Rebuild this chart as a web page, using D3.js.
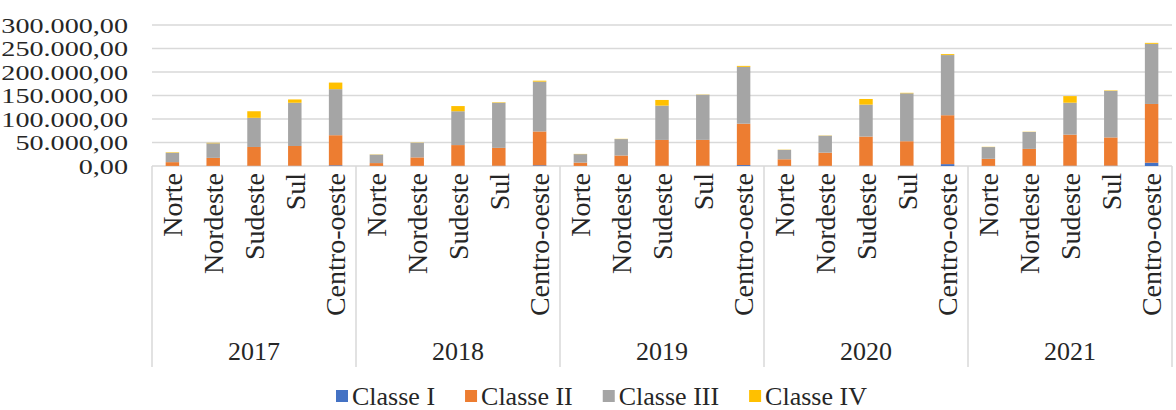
<!DOCTYPE html>
<html>
<head>
<meta charset="utf-8">
<script src="https://cdn.jsdelivr.net/npm/d3@7"></script>
<style>
  body { margin: 0; background: #fff; }
  text { font-family: "Liberation Serif", "Times New Roman", serif; fill: #262626; }
</style>
</head>
<body>
<svg id="chart" width="1176" height="410"></svg>
<script>
// categories
const years = ['2017', '2018', '2019', '2020', '2021'];
const regions = ['Norte', 'Nordeste', 'Sudeste', 'Sul', 'Centro-oeste'];
const classes = ['Classe I', 'Classe II', 'Classe III', 'Classe IV'];
const yTicks = [0, 50000, 100000, 150000, 200000, 250000, 300000];

// series values, year by year, in the order of regions
const classeI = [200, 300, 500, 600, 1500, 200, 300, 500, 600, 1500,
                 200, 300, 500, 600, 2000, 300, 400, 600, 700, 4000,
                 300, 400, 700, 800, 7000];
const classeII = [8000, 17000, 40000, 42000, 64000, 6000, 18000, 44000, 38000, 72000,
                  7000, 22000, 55000, 55000, 88000, 14000, 28000, 62000, 52000, 104000,
                  15000, 36000, 66000, 60000, 125000];
const classeIII = [20000, 31000, 62000, 92000, 98000, 18000, 31000, 72000, 96000, 106000,
                   18000, 35000, 73000, 96000, 121000, 20000, 36000, 68000, 102000, 128000,
                   25000, 36000, 68000, 99000, 128000];
const classeIV = [1000, 1000, 14000, 7000, 14000, 500, 500, 11000, 1000, 2000,
                  500, 500, 12000, 500, 2000, 500, 500, 12000, 1000, 2000,
                  500, 500, 14000, 1000, 2000];

const colors = ['#4472C4', '#ED7D31', '#A5A5A5', '#FFC000'];

// table for the stack
let data = [];
years.forEach((y, i) => {
    regions.forEach((r, j) => {
        let k = i * regions.length + j;
        data.push({
            key: y + '|' + r, year: y, region: r,
            'Classe I': classeI[k], 'Classe II': classeII[k],
            'Classe III': classeIII[k], 'Classe IV': classeIV[k]
        });
    });
});

let plotLeft = 152, plotRight = 1172, plotTop = 25, plotBase = 166;
let svg = d3.select('#chart');

let xScale = d3.scaleBand()
    .domain(data.map(d => d.key))
    .range([plotLeft, plotRight])
    .paddingInner(0.67)
    .paddingOuter(0.335);

let yearScale = d3.scaleBand()
    .domain(years)
    .range([plotLeft, plotRight]);

let yScale = d3.scaleLinear()
    .domain([0, 300000])
    .range([plotBase, plotTop]);

let br = d3.formatLocale({decimal: ',', thousands: '.', grouping: [3], currency: ['R$', '']});
let fmt = br.format(',.2f');

// gridlines
svg.append('g')
    .selectAll('line')
    .data(yTicks)
    .join('line')
        .attr('x1', plotLeft)
        .attr('x2', plotRight)
        .attr('y1', d => yScale(d))
        .attr('y2', d => yScale(d))
        .attr('stroke', '#D9D9D9')
        .attr('stroke-width', 1.5);

// y axis labels (wide, tightly packed like the original)
let yAxis = svg.append('g')
    .attr('transform', 'translate(128,0) scale(1.28,1)')
    .call(d3.axisLeft(yScale).tickValues(yTicks).tickFormat(fmt).tickSize(0));
yAxis.select('.domain').remove();
yAxis.selectAll('text')
    .attr('x', 0)
    .attr('dy', '0.33em')
    .style('font-size', '22px')
    .style('font-family', '"Liberation Serif", serif')
    .attr('fill', '#262626');

// stacked bars
let stack = d3.stack().keys(classes);
let series = stack(data);

svg.append('g')
    .selectAll('g')
    .data(series)
    .join('g')
        .attr('fill', (d, i) => colors[i])
    .selectAll('rect')
    .data(d => d)
    .join('rect')
        .attr('x', d => xScale(d.data.key))
        .attr('width', xScale.bandwidth())
        .attr('y', d => yScale(d[1]))
        .attr('height', d => yScale(d[0]) - yScale(d[1]));

// region labels (inner level of category axis)
let xAxis = svg.append('g')
    .attr('transform', 'translate(0,' + plotBase + ')')
    .call(d3.axisBottom(xScale).tickFormat(k => k.split('|')[1]).tickSize(0));
xAxis.select('.domain').remove();
xAxis.selectAll('text')
    .attr('transform', 'rotate(-90)')
    .attr('text-anchor', 'end')
    .attr('x', -7)
    .attr('y', 0)
    .attr('dy', '0.35em')
    .style('font-size', '28px')
    .style('font-family', '"Liberation Serif", serif')
    .attr('fill', '#262626');

// year labels (outer level)
svg.append('g')
    .selectAll('text')
    .data(years)
    .join('text')
        .attr('x', d => yearScale(d) + yearScale.bandwidth() / 2)
        .attr('y', 360)
        .attr('text-anchor', 'middle')
        .style('font-size', '26px')
        .text(d => d);

// group separators
let bounds = years.map(d => yearScale(d)).concat([plotRight]);
svg.append('g')
    .selectAll('line')
    .data(bounds)
    .join('line')
        .attr('x1', d => d)
        .attr('x2', d => d)
        .attr('y1', plotBase)
        .attr('y2', 367)
        .attr('stroke', '#D9D9D9')
        .attr('stroke-width', 1.5);

// legend
let legend = svg.append('g').attr('transform', 'translate(0,397)');
let lx = 336;
classes.forEach((c, i) => {
    let g = legend.append('g').attr('transform', 'translate(' + lx + ',0)');
    g.append('rect')
        .attr('x', 0)
        .attr('y', -7)
        .attr('width', 12)
        .attr('height', 12)
        .attr('fill', colors[i]);
    let t = g.append('text')
        .attr('x', 16)
        .attr('y', 8)
        .style('font-size', '26px')
        .text(c);
    lx += 16 + t.node().getComputedTextLength() + 30;
});
</script>
</body>
</html>
